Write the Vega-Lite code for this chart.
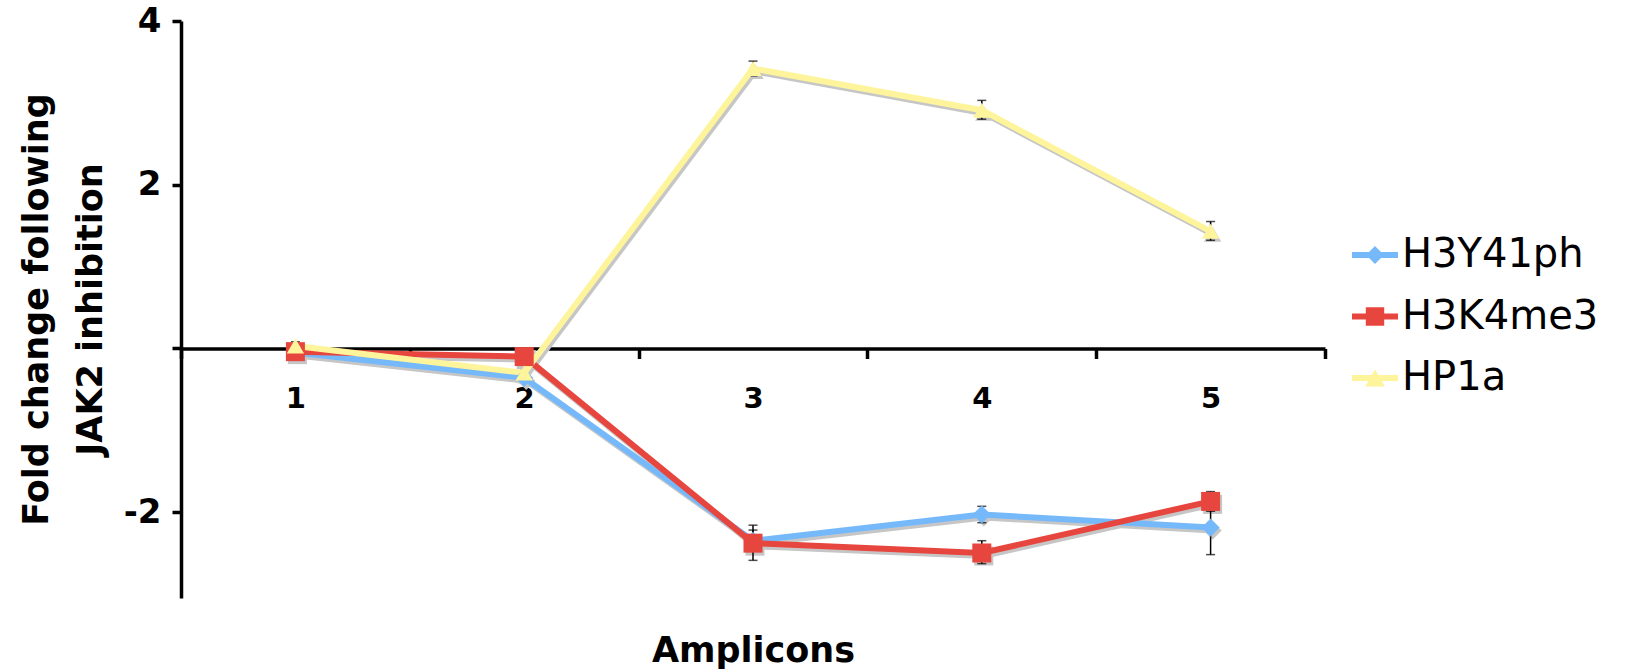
{
  "$schema": "https://vega.github.io/schema/vega-lite/v6.json",
  "autosize": {"type": "none"},
  "width": 1144,
  "height": 577,
  "padding": {"left": 181, "top": 21, "right": 321, "bottom": 72},
  "background": "white",
  "config": {
    "view": {"stroke": null},
    "font": "DejaVu Sans",
    "axisY": {
      "labelFont": "DejaVu Sans",
      "labelFontSize": 34,
      "labelFontWeight": "bold",
      "labelColor": "black",
      "labelPadding": 11,
      "tickSize": 9,
      "tickWidth": 3.5,
      "tickColor": "black",
      "domainColor": "black",
      "domainWidth": 3.5,
      "grid": false,
      "titleFont": "DejaVu Sans",
      "titleFontSize": 35,
      "titleFontWeight": "bold",
      "titleColor": "black",
      "titleLineHeight": 54
    },
    "axisX": {
      "labelAngle": 0,
      "labelFont": "DejaVu Sans",
      "labelFontSize": 29,
      "labelFontWeight": "bold",
      "labelColor": "black",
      "labelPadding": 26,
      "domainColor": "black",
      "domainWidth": 3.5,
      "tickColor": "black",
      "tickWidth": 3.5,
      "tickSize": 10,
      "grid": false,
      "titleFont": "DejaVu Sans",
      "titleFontSize": 35,
      "titleFontWeight": "bold",
      "titleColor": "black"
    }
  },
  "data": {
    "values": [
      {"series": "H3Y41ph", "amplicon": "1", "value": -0.05, "lo": -0.08, "hi": -0.02},
      {"series": "H3Y41ph", "amplicon": "2", "value": -0.36, "lo": -0.39, "hi": -0.33},
      {"series": "H3Y41ph", "amplicon": "3", "value": -2.35, "lo": -2.45, "hi": -2.22},
      {"series": "H3Y41ph", "amplicon": "4", "value": -2.03, "lo": -2.13, "hi": -1.93},
      {"series": "H3Y41ph", "amplicon": "5", "value": -2.19, "lo": -2.52, "hi": -1.86},
      {"series": "H3K4me3", "amplicon": "1", "value": -0.04, "lo": -0.06, "hi": -0.02},
      {"series": "H3K4me3", "amplicon": "2", "value": -0.1, "lo": -0.13, "hi": -0.07},
      {"series": "H3K4me3", "amplicon": "3", "value": -2.38, "lo": -2.59, "hi": -2.16},
      {"series": "H3K4me3", "amplicon": "4", "value": -2.5, "lo": -2.63, "hi": -2.35},
      {"series": "H3K4me3", "amplicon": "5", "value": -1.87, "lo": -1.99, "hi": -1.75},
      {"series": "HP1a", "amplicon": "1", "value": 0.03, "lo": -0.02, "hi": 0.08},
      {"series": "HP1a", "amplicon": "2", "value": -0.3, "lo": -0.33, "hi": -0.27},
      {"series": "HP1a", "amplicon": "3", "value": 3.42, "lo": 3.33, "hi": 3.51},
      {"series": "HP1a", "amplicon": "4", "value": 2.91, "lo": 2.8, "hi": 3.03},
      {"series": "HP1a", "amplicon": "5", "value": 1.43, "lo": 1.32, "hi": 1.55}
    ]
  },
  "encoding": {
    "x": {
      "field": "amplicon",
      "type": "ordinal",
      "title": "Amplicons",
      "scale": {"type": "band", "paddingInner": 0, "paddingOuter": 0},
      "axis": {"orient": "bottom", "offset": -249.5, "tickBand": "extent", "titleY": 285, "titleBaseline": "top"}
    },
    "y": {"field": "value", "type": "quantitative", "title": ["Fold change following", "JAK2 inhibition"], "scale": {"domain": [-3.05, 4], "nice": false, "zero": false},
          "axis": {"values": [-2, 0, 2, 4], "labelExpr": "datum.value === 0 ? '' : toString(datum.value)", "titleX": -134, "titleY": 288, "titleBaseline": "alphabetic"}}
  },
  "layer": [
    {
      "mark": {"type": "line", "strokeWidth": 6, "color": "#c6c6c6", "xOffset": 2, "yOffset": 3},
      "encoding": {"detail": {"field": "series", "type": "nominal"}}
    },
    {
      "transform": [{"filter": "datum.series === 'H3Y41ph'"}],
      "mark": {"type": "point", "shape": "diamond", "filled": true, "opacity": 1, "color": "#c6c6c6", "xOffset": 2, "yOffset": 3, "size": 330}
    },
    {
      "transform": [{"filter": "datum.series === 'H3K4me3'"}],
      "mark": {"type": "point", "shape": "square", "filled": true, "opacity": 1, "color": "#c6c6c6", "xOffset": 2, "yOffset": 3, "size": 361}
    },
    {
      "transform": [{"filter": "datum.series === 'HP1a'"}],
      "mark": {"type": "point", "shape": "triangle-up", "filled": true, "opacity": 1, "color": "#c6c6c6", "xOffset": 2, "yOffset": 3, "size": 300}
    },
    {
      "mark": {"type": "rule", "color": "black", "strokeWidth": 1.5},
      "encoding": {
        "y": {"field": "lo", "type": "quantitative", "title": ["Fold change following", "JAK2 inhibition"]},
        "y2": {"field": "hi"}
      }
    },
    {
      "mark": {"type": "tick", "color": "black", "thickness": 1.5, "size": 9, "orient": "horizontal"},
      "encoding": {
        "y": {"field": "lo", "type": "quantitative", "title": ["Fold change following", "JAK2 inhibition"]}
      }
    },
    {
      "mark": {"type": "tick", "color": "black", "thickness": 1.5, "size": 9, "orient": "horizontal"},
      "encoding": {
        "y": {"field": "hi", "type": "quantitative", "title": ["Fold change following", "JAK2 inhibition"]}
      }
    },
    {
      "mark": {"type": "line", "strokeWidth": 6},
      "encoding": {
        "color": {
          "field": "series",
          "type": "nominal",
          "scale": {"domain": ["H3Y41ph", "H3K4me3", "HP1a"], "range": ["#75b9fa", "#e7463e", "#fef49c"]},
          "legend": {
            "orient": "none",
            "legendX": 1171,
            "legendY": 211,
            "title": null,
            "labelFont": "DejaVu Sans",
            "labelFontSize": 40,
            "labelColor": "black",
            "labelOffset": 4,
            "labelLimit": 0,
            "symbolSize": 2116,
            "rowPadding": 18.5,
            "encode": {
              "symbols": {
                "update": {
                  "shape": {"signal": "datum.value === 'H3Y41ph' ? 'M-1,-0.13L-0.26,-0.13L0,-0.39L0.26,-0.13L1,-0.13L1,0.13L0.26,0.13L0,0.39L-0.26,0.13L-1,0.13Z' : datum.value === 'H3K4me3' ? 'M-1,-0.13L-0.4,-0.13L-0.4,-0.4L0.4,-0.4L0.4,-0.13L1,-0.13L1,0.13L0.4,0.13L0.4,0.4L-0.4,0.4L-0.4,0.13L-1,0.13Z' : 'M-1,-0.13L-0.14,-0.13L0,-0.37L0.14,-0.13L1,-0.13L1,0.13L0.29,0.13L0.43,0.37L-0.43,0.37L-0.29,0.13L-1,0.13Z'"},
                  "fill": {"signal": "datum.value === 'H3Y41ph' ? '#75b9fa' : datum.value === 'H3K4me3' ? '#e7463e' : '#fef49c'"},
                  "stroke": {"value": "transparent"},
                  "strokeWidth": {"value": 0},
                  "opacity": {"value": 1},
                  "size": {"value": 2116}
                }
              }
            }
          }
        }
      }
    },
    {
      "transform": [{"filter": "datum.series === 'H3Y41ph'"}],
      "mark": {"type": "point", "shape": "diamond", "filled": true, "opacity": 1, "color": "#75b9fa", "size": 330}
    },
    {
      "transform": [{"filter": "datum.series === 'H3K4me3'"}],
      "mark": {"type": "point", "shape": "square", "filled": true, "opacity": 1, "color": "#e7463e", "size": 361}
    },
    {
      "transform": [{"filter": "datum.series === 'HP1a'"}],
      "mark": {"type": "point", "shape": "triangle-up", "filled": true, "opacity": 1, "color": "#fef49c", "size": 300}
    }
  ]
}
